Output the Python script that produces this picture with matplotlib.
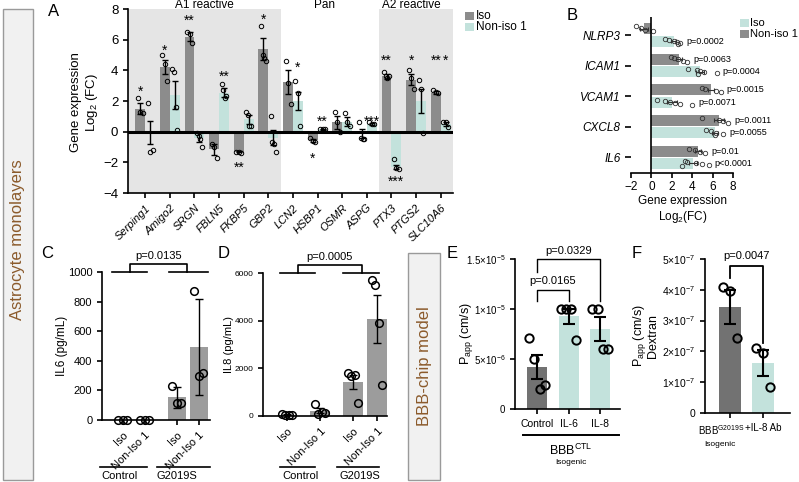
import numpy as np
import matplotlib
matplotlib.use('Agg')
import matplotlib.pyplot as plt
from matplotlib.patches import Rectangle
import matplotlib.transforms as mtransforms

plt.rcParams['font.family'] = ['Liberation Sans', 'DejaVu Sans']
plt.rcParams['mathtext.fontset'] = 'custom'
plt.rcParams['mathtext.rm'] = 'Liberation Sans'
plt.rcParams['mathtext.it'] = 'Liberation Sans:italic'
plt.rcParams['axes.linewidth'] = 1.2
plt.rcParams['xtick.major.width'] = 1.2
plt.rcParams['ytick.major.width'] = 1.2
plt.rcParams['xtick.major.size'] = 3.5
plt.rcParams['ytick.major.size'] = 3.5

# ---------------- data ----------------
# A: astrocyte reactivity genes
genes = ['Serping1', 'Amigo2', 'SRGN', 'FBLN5', 'FKBP5', 'GBP2', 'LCN2',
         'HSBP1', 'OSMR', 'ASPG', 'PTX3', 'PTGS2', 'SLC10A6']
a_iso_mean = [1.5, 4.2, 6.2, -1.15, -1.3, 5.4, 3.25, -0.55, 0.6, -0.1, 3.6, 3.4, 2.55]
a_iso_err = [0.35, 0.45, 0.3, 0.35, 0.05, 0.7, 0.8, 0.1, 0.4, 0.3, 0.15, 0.35, 0.1]
a_iso_pts = [[2.2, 1.3, 1.2], [5.0, 4.4, 3.3], [6.5, 6.4, 5.8], [-0.8, -1.0, -1.7],
             [-1.3, -1.35, -1.4], [6.9, 5.0, 4.8, 4.6], [4.6, 3.2, 1.8], [-0.4, -0.6, -0.7],
             [1.3, 0.6, 0.0], [0.6, -0.4, -0.5, -0.45], [3.9, 3.6, 3.5, 3.6],
             [4.0, 3.5, 2.8], [2.7, 2.6, 2.5]]
a_non_mean = [-0.05, 2.4, -0.4, 2.55, 0.8, -0.4, 2.0, 0.15, 0.65, 0.5, -2.3, 2.0, 0.5]
a_non_err = [0.75, 0.9, 0.3, 0.3, 0.3, 0.5, 0.6, 0.05, 0.3, 0.05, 0.15, 0.8, 0.1]
a_non_pts = [[1.9, -1.3, -1.2], [4.1, 3.9, 1.6, 0.1], [-0.1, -0.3, -0.5, -1.0],
             [3.1, 2.7, 2.2, 2.3], [1.3, 1.1, 0.4, 0.4], [1.0, -0.7, -0.8, -1.3],
             [3.3, 2.5, 0.35], [0.15, 0.2, 0.15], [1.2, 0.6, 0.4], [0.6, 0.5, 0.5],
             [-1.8, -2.4, -2.45], [3.4, 2.8, -0.1], [0.6, 0.6, 0.3]]
# (gene index, 0=Iso / 1=Non-iso 1, y, label)
a_stars = [(0, 0, 2.9, '*'), (1, 0, 5.6, '*'), (2, 0, 7.5, '**'), (3, 1, 3.85, '**'),
           (4, 0, -2.05, '**'), (5, 0, 7.6, '*'), (6, 1, 4.45, '*'), (7, 0, -1.45, '*'),
           (7, 1, 0.95, '**'), (9, 1, 0.95, '***'), (10, 0, 4.95, '**'),
           (10, 1, -2.95, '***'), (11, 0, 4.95, '*'), (12, 0, 4.95, '**'), (12, 1, 4.95, '*')]
a_groups = ['A1 reactive', 'Pan', 'A2 reactive']

# B: inflammatory genes
b_genes = ['NLRP3', 'ICAM1', 'VCAM1', 'CXCL8', 'IL6']
b_non_mean = [-0.7, 2.7, 5.8, 6.6, 4.6]
b_non_err = [0.4, 0.3, 0.3, 0.5, 0.3]
b_non_pts = [[-1.5, -1.0, -0.6, 0.2], [1.9, 2.2, 2.6, 3.1, 3.5], [5.0, 5.3, 6.3, 6.8],
             [5.0, 6.6, 7.0, 7.5], [3.7, 4.3, 4.8, 5.3]]
b_non_p = ['', 'p=0.0063', 'p=0.0015', 'p=0.0011', 'p=0.01']
b_iso_mean = [2.2, 4.8, 2.0, 6.2, 4.1]
b_iso_err = [0.25, 0.4, 0.5, 0.3, 0.4]
b_iso_pts = [[1.3, 1.7, 2.2, 2.5, 2.8, 2.6], [3.6, 4.5, 4.8, 5.2, 6.4, 4.6],
             [0.5, 1.3, 1.8, 2.3, 2.8, 4.0], [5.4, 5.8, 6.3, 7.0, 6.2],
             [3.3, 3.5, 4.4, 5.0, 5.6, 3.0]]
b_iso_p = ['p=0.0002', 'p=0.0004', 'p=0.0071', 'p=0.0055', 'p<0.0001']

# C / D: secreted cytokines
cd_labels = ['Iso', 'Non-Iso 1', 'Iso', 'Non-Iso 1']
cd_groups = ['Control', 'G2019S']
c_mean = [0, 0, 153, 495]
c_err = [0, 0, 70, 325]
c_pts = [[0, 0, 0], [0, 0, 0], [230, 112, 117], [870, 297, 319]]
c_p = 'p=0.0135'
d_mean = [50, 230, 1430, 4080]
d_err = [20, 100, 290, 1000]
d_pts = [[100, 40, 40, 30], [520, 100, 170, 130], [1800, 1670, 1710, 545],
         [5720, 5480, 3900, 1316]]
d_p = 'p=0.0005'

# E / F: BBB-chip permeability
e_labels = ['Control', 'IL-6', 'IL-8']
e_mean = [4.2e-6, 9.3e-6, 8.0e-6]
e_err = [1.2e-6, 0.75e-6, 1.2e-6]
e_pts = [[7.1e-6, 5.0e-6, 2.0e-6, 2.4e-6], [1.0e-5, 1.0e-5, 1.0e-5, 6.9e-6],
         [1.0e-5, 1.0e-5, 6.0e-6, 6.0e-6]]
e_p = ['p=0.0165', 'p=0.0329']
f_labels = ['BBB$^{\\mathrm{G2019S}}$', '+IL-8 Ab']
f_mean = [3.45e-7, 1.62e-7]
f_err = [0.55e-7, 0.42e-7]
f_pts = [[4.1e-7, 3.95e-7, 2.45e-7], [2.1e-7, 1.95e-7, 0.85e-7]]
f_p = 'p=0.0047'

# ---------------- style ----------------
DARK = '#8c8c8c'
DARK2 = '#9c9c9c'
DARK3 = '#727272'
TEAL = '#c3e2dc'
SHADE = '#e5e5e5'
BROWN = '#8b5a2b'

W, H = 799, 482
fig = plt.figure(figsize=(W / 100, H / 100), dpi=100)


def add_ax(x0, y0, x1, y1):
    ax = fig.add_axes([x0 / W, 1 - y1 / H, (x1 - x0) / W, (y1 - y0) / H])
    ax.spines[['top', 'right']].set_visible(False)
    ax.patch.set_alpha(0)
    return ax


def ftext(x, y, s, **kw):
    fig.text(x / W, 1 - y / H, s, **kw)


def vbars(ax, pos, means, errs, pts, colors, width, ms, mew, spread, cap, elw):
    ax.bar(pos, means, width, color=colors, zorder=2)
    for x, m, e, p in zip(pos, means, errs, pts):
        off = np.linspace(-spread, spread, len(p))
        ax.plot(x + off, p, 'o', mfc='none', mec='k', ms=ms, mew=mew, zorder=3, clip_on=False)
        if e > 0:
            ax.errorbar(x, m, yerr=e, color='k', capsize=cap, elinewidth=elw,
                        capthick=elw, zorder=4)


# side boxes
fig.add_artist(Rectangle((3 / W, 1 - 480 / H), 30 / W, 471 / H, transform=fig.transFigure,
                         fc='#f1f1f1', ec='#9a9a9a', lw=1))
ftext(18, 240, 'Astrocyte monolayers', rotation=90, ha='center', va='center',
      color=BROWN, fontsize=12)
fig.add_artist(Rectangle((408 / W, 1 - 480 / H), 32 / W, 227 / H, transform=fig.transFigure,
                         fc='#f1f1f1', ec='#9a9a9a', lw=1))
ftext(424, 366, 'BBB-chip model', rotation=90, ha='center', va='center',
      color=BROWN, fontsize=12)

# ---------------- A ----------------
ax = add_ax(128, 9, 453, 193)
xa = np.arange(len(genes))
ax.axvspan(-0.7, 5.5, color=SHADE, lw=0, zorder=0)
ax.axvspan(9.5, 12.5, color=SHADE, lw=0, zorder=0)
vbars(ax, xa - 0.2, a_iso_mean, a_iso_err, a_iso_pts, DARK, 0.4, 3.2, 0.7, 0.1, 2, 1)
vbars(ax, xa + 0.2, a_non_mean, a_non_err, a_non_pts, TEAL, 0.4, 3.2, 0.7, 0.1, 2, 1)
ax.axhline(0, color='k', lw=2.2, zorder=5)
for g, side, y, s in a_stars:
    ax.text(g - 0.2 + 0.4 * side, y - 0.3, s, ha='center', va='center', fontsize=10, zorder=6)
ax.set_xlim(-0.7, 12.5)
ax.set_ylim(-4, 8)
ax.set_yticks(range(-4, 9, 2))
ax.set_xticks(xa)
ax.set_xticklabels(genes, rotation=45, ha='right', rotation_mode='anchor',
                   fontstyle='italic', fontsize=8)
ax.tick_params(axis='y', labelsize=9.5)
for x, s in zip([2.4, 7.3, 10.8], a_groups):
    ax.text(x, 8.27, s, ha='center', va='center', fontsize=8.5)
ftext(85, 102, 'Gene expression\nLog$_2$ (FC)', rotation=90, ha='center', va='center',
      fontsize=9.5, linespacing=1.1)
ftext(54, 12, 'A', ha='center', va='center', fontsize=12)
fig.add_artist(Rectangle((465 / W, 1 - 20 / H), 9 / W, 8 / H, transform=fig.transFigure,
                         fc=DARK, lw=0))
fig.add_artist(Rectangle((465 / W, 1 - 31 / H), 9 / W, 8 / H, transform=fig.transFigure,
                         fc=TEAL, lw=0))
ftext(476, 16, 'Iso', va='center', fontsize=8.5)
ftext(476, 27, 'Non-iso 1', va='center', fontsize=8.5)

# ---------------- B ----------------
ax = add_ax(631, 17, 733, 173)
yb = np.arange(len(b_genes))
ax.barh(yb - 0.2, b_non_mean, 0.36, color=DARK, zorder=2)
ax.barh(yb + 0.2, b_iso_mean, 0.36, color=TEAL, zorder=2)
for yy, means, errs, pts, ps in [(yb - 0.2, b_non_mean, b_non_err, b_non_pts, b_non_p),
                                  (yb + 0.2, b_iso_mean, b_iso_err, b_iso_pts, b_iso_p)]:
    for y, m, e, p, s in zip(yy, means, errs, pts, ps):
        off = np.linspace(-0.08, 0.08, len(p))
        ax.plot(p, y + off, 'o', mfc='none', mec='#333333', ms=3.2, mew=0.6, zorder=3)
        ax.errorbar(m, y, xerr=e, color='#333333', capsize=1.5, elinewidth=0.8,
                    capthick=0.8, zorder=4)
        if s:
            ax.text(max(p) + 0.6, y, s, va='center', ha='left', fontsize=6.5)
ax.axvline(0, color='k', lw=1.2, zorder=5)
ax.spines['left'].set_visible(False)
ax.set_xlim(-2, 8)
ax.set_ylim(4.52, -0.59)
ax.set_xticks(range(-2, 9, 2))
ax.set_yticks(yb)
ax.set_yticklabels(b_genes, fontstyle='italic', fontsize=8.5)
ax.tick_params(axis='x', labelsize=8.5, pad=2)
ax.tick_params(axis='y', length=4)
ftext(683, 210, 'Gene expression\nLog$_2$(FC)', ha='center', va='center', fontsize=8.5,
      linespacing=1.15)
ftext(572, 15, 'B', ha='center', va='center', fontsize=12)
fig.add_artist(Rectangle((740 / W, 1 - 27 / H), 9 / W, 8 / H, transform=fig.transFigure,
                         fc=TEAL, lw=0))
fig.add_artist(Rectangle((740 / W, 1 - 38 / H), 9 / W, 8 / H, transform=fig.transFigure,
                         fc=DARK, lw=0))
ftext(750, 23, 'Iso', va='center', fontsize=8)
ftext(750, 34, 'Non-iso 1', va='center', fontsize=8)


# ---------------- C / D ----------------
def cd_panel(box, pos, width, xlim, means, errs, pts, ymax, ystep, ylabel, ylab_x,
             bracket, ptext, group_lines, group_text, letter, tick_fs, lab_fs):
    ax = add_ax(*box)
    vbars(ax, pos, means, errs, pts, DARK2, width, 5.5, 1.1, 0.25 * width, 3, 1)
    ax.set_xlim(*xlim)
    ax.set_ylim(0, ymax)
    ax.set_yticks(np.arange(0, ymax + 1, ystep))
    ax.set_xticks(pos)
    ax.set_xticklabels(cd_labels, rotation=45, ha='right', rotation_mode='anchor', fontsize=8)
    ax.tick_params(axis='y', labelsize=tick_fs)
    # bracket above the two groups
    (l0, l1), (r0, r1), (cl, cr) = bracket
    ylo = ymax
    yhi = ymax * 1.055
    kw = dict(color='k', lw=1.2, clip_on=False)
    ax.plot([l0, l1], [ylo, ylo], **kw)
    ax.plot([r0, r1], [ylo, ylo], **kw)
    ax.plot([cl, cl, cr, cr], [ylo, yhi, yhi, ylo], **kw)
    ax.text((cl + cr) / 2, yhi + ymax * 0.02, ptext, ha='center', va='bottom', fontsize=8)
    tr = mtransforms.blended_transform_factory(ax.transData, fig.transFigure)
    for (g0, g1), (gx, s) in zip(group_lines, zip(group_text, cd_groups)):
        ax.plot([g0, g1], [1 - 467 / H] * 2, color='k', lw=1.2, transform=tr, clip_on=False)
        ax.text(gx, 1 - 476 / H, s, ha='center', va='center', fontsize=8, transform=tr)
    ftext(ylab_x, (box[1] + box[3]) / 2, ylabel, rotation=90, ha='center', va='center',
          fontsize=lab_fs)
    ftext(*letter[:2], letter[2], ha='center', va='center', fontsize=12)
    return ax


cd_panel((102, 272, 210, 420), np.array([0, 1, 2.45, 3.45]), 0.82, (-0.95, 3.95),
         c_mean, c_err, c_pts, 1000, 200, 'IL6 (pg/mL)', 62,
         ((-0.5, 1.09), (2.09, 3.86), (0.32, 2.9)), c_p,
         [(-1.05, 1.09), (1.55, 3.95)], [-0.15, 2.45], (47, 254, 'C'), 8, 8.5)
cd_panel((263, 273, 387, 416), np.array([0, 1, 2, 2.73]), 0.6, (-0.73, 3.03),
         d_mean, d_err, d_pts, 6000, 2000, 'IL8 (pg/mL)', 229,
         ((-0.2, 0.85), (1.7, 2.8), (0.33, 2.27)), d_p,
         [(-0.2, 0.85), (1.5, 2.8)], [0.4, 2.2], (224, 254, 'D'), 6, 8)

# ---------------- E ----------------
ax = add_ax(515, 259, 620, 409)
xe = np.arange(len(e_labels))
vbars(ax, xe, e_mean, e_err, e_pts, [DARK3, TEAL, TEAL], 0.63, 6, 1.4, 0.25, 4, 1.5)
ax.set_xlim(-0.7, 2.63)
ax.set_ylim(0, 1.5e-5)
ax.set_yticks([0, 5e-6, 1e-5, 1.5e-5])
ax.set_yticklabels(['0', '5×10$^{-6}$', '1×10$^{-5}$', '1.5×10$^{-5}$'], fontsize=7)
ax.set_xticks(xe)
ax.set_xticklabels(e_labels, fontsize=7.5)
kw = dict(color='k', lw=1, clip_on=False)
ax.plot([0, 0, 1, 1], [1.08e-5, 1.19e-5, 1.19e-5, 1.08e-5], **kw)
ax.text(0.5, 1.23e-5, e_p[0], ha='center', va='bottom', fontsize=8)
ax.plot([0, 0, 2, 2], [1.37e-5, 1.5e-5, 1.5e-5, 1.08e-5], **kw)
ax.text(1, 1.53e-5, e_p[1], ha='center', va='bottom', fontsize=8)
tr = mtransforms.blended_transform_factory(ax.transData, fig.transFigure)
ax.plot([-0.45, 2.6], [1 - 435 / H] * 2, color='k', lw=1.4, transform=tr, clip_on=False)
ftext(571, 450, 'BBB$^{\\mathrm{CTL}}$', ha='center', va='center', fontsize=9)
ftext(571, 462, 'Isogenic', ha='center', va='center', fontsize=6)
ftext(466, 334, 'P$_{\\mathrm{app}}$ (cm/s)', rotation=90, ha='center', va='center',
      fontsize=9)
ftext(452, 253, 'E', ha='center', va='center', fontsize=12)

# ---------------- F ----------------
ax = add_ax(705, 259, 790, 413)
xf = np.arange(len(f_labels))
vbars(ax, xf, f_mean, f_err, f_pts, [DARK3, TEAL], 0.67, 6, 1.4, 0.2, 4, 1.5)
ax.set_xlim(-0.76, 1.82)
ax.set_ylim(0, 5e-7)
ax.set_yticks(np.arange(6) * 1e-7)
ax.set_yticklabels(['0'] + ['%d×10$^{-7}$' % i for i in range(1, 6)], fontsize=7.5)
ax.set_xticks(xf)
ax.set_xticklabels(f_labels, fontsize=7)
for lab, dx in zip(ax.get_xticklabels(), [-9, 0]):
    lab.set_transform(lab.get_transform() +
                      mtransforms.ScaledTranslation(dx / 100, 0, fig.dpi_scale_trans))
ax.plot([0, 0, 1, 1], [4.38e-7, 4.76e-7, 4.76e-7, 2.26e-7], color='k', lw=1.3, clip_on=False)
ax.text(0.5, 4.95e-7, f_p, ha='center', va='bottom', fontsize=8)
ftext(720, 444, 'Isogenic', ha='center', va='center', fontsize=6)
ftext(645, 336, 'P$_{\\mathrm{app}}$ (cm/s)\nDextran', rotation=90, ha='center',
      va='center', fontsize=9, linespacing=0.9)
ftext(637, 254, 'F', ha='center', va='center', fontsize=12)

fig.savefig('out.png', dpi=100)
